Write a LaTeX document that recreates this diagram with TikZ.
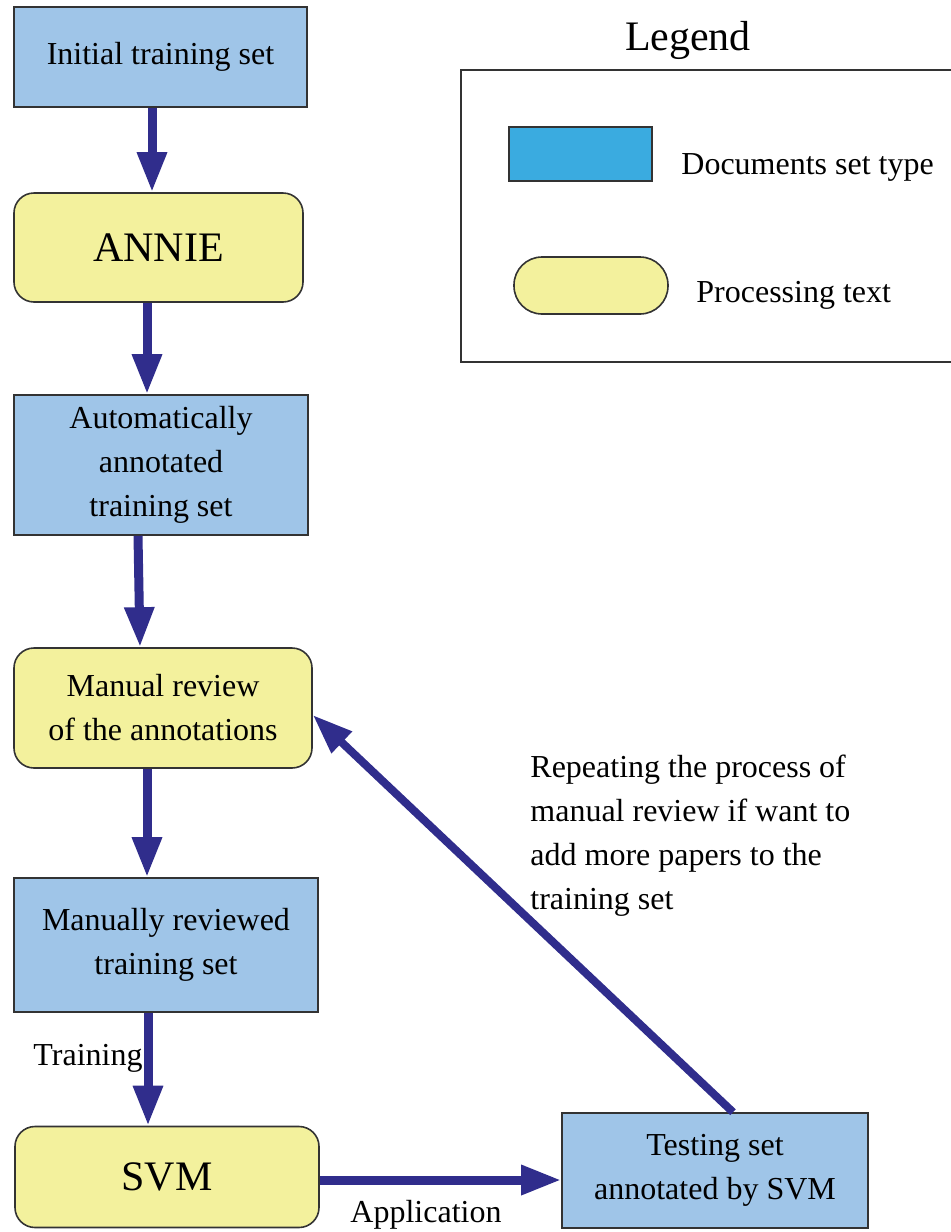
\documentclass[tikz,border=0pt]{standalone}
\usepackage{fontspec}
\setmainfont{Liberation Serif}
\usetikzlibrary{arrows.meta,calc}
\definecolor{docblue}{HTML}{9FC5E8}
\definecolor{procyellow}{HTML}{F3F19D}
\definecolor{legblue}{HTML}{3AABE0}
\definecolor{arrowblue}{HTML}{302D8C}
\definecolor{edgegray}{HTML}{333333}
\tikzset{
  docbox/.style={draw=edgegray, line width=0.8pt, fill=docblue, align=center, inner sep=0pt,
    font=\fontsize{16}{22}\selectfont},
  procbox/.style={draw=edgegray, line width=0.8pt, fill=procyellow, rounded corners=10pt, align=center, inner sep=0pt,
    font=\fontsize{16}{22}\selectfont},
  flow/.style={draw=arrowblue, line width=4.5pt, -{Triangle[length=20pt,width=14pt]}},
  plain/.style={font=\fontsize{16}{22}\selectfont, inner sep=0pt},
}
\begin{document}
\begin{tikzpicture}[x=0.5pt,y=-0.5pt]
\useasboundingbox (0,0) rectangle (950,1232);
% main flow nodes
\node[docbox, minimum width=146.5pt, minimum height=50pt] (init) at (160.5,57) {Initial training set};
\node[procbox, minimum width=144.5pt, minimum height=54.5pt, font=\fontsize{21}{24}\selectfont] (annie) at (158.5,247.5) {ANNIE};
\node[docbox, minimum width=147pt, minimum height=70pt] (auto) at (161,465) {Automatically\\annotated\\training set};
\node[procbox, minimum width=149pt, minimum height=60pt] (manual) at (163,708) {Manual review\\of the annotations};
\node[docbox, minimum width=152pt, minimum height=67pt] (reviewed) at (166,945) {Manually reviewed\\training set};
\node[procbox, minimum width=152pt, minimum height=50.5pt, font=\fontsize{21}{24}\selectfont] (svm) at (167,1177) {SVM};
\node[docbox, minimum width=153pt, minimum height=57.5pt] (testing) at (715,1170.5) {Testing set\\annotated by SVM};
% arrows
\draw[flow] ($(init.south)+(-8.5,0)$) -- ($(annie.north)+(-6.5,0)$);
\draw[flow] ($(annie.south)+(-11.5,0)$) -- ($(auto.north)+(-14,0)$);
\draw[flow] ($(auto.south)+(-23,0)$) -- ($(manual.north)+(-23,0)$);
\draw[flow] ($(manual.south)+(-16,0)$) -- ($(reviewed.north)+(-19,0)$);
\draw[flow] ($(reviewed.south)+(-18,0)$) -- ($(svm.north)+(-19,0)$);
\draw[flow] ($(svm.east)+(0,3)$) -- ($(testing.west)+(0,9.5)$);
\draw[flow, line width=4pt] ($(testing.north)+(18,0)$) -- ($(manual.east)+(0,7)$);
% labels
\node[plain] (ltrain) at (88,1058) {Training};
\node[plain] (lapp) at (426,1215) {Application};
\node[plain, anchor=west, align=left] (lrepeat) at (530,836) {Repeating the process of\\manual review if want to\\add more papers to the\\training set};
% legend
\node[font=\fontsize{21}{24}\selectfont, inner sep=0pt] (legtitle) at (688,40) {Legend};
\node[draw=edgegray, line width=0.8pt, minimum width=247pt, minimum height=146pt, inner sep=0pt] (legbox) at (708,216) {};
\node[draw=edgegray, line width=0.8pt, fill=legblue, minimum width=71.5pt, minimum height=27pt, inner sep=0pt] (legdoc) at (580.5,154) {};
\node[draw=edgegray, line width=0.8pt, fill=procyellow, rounded corners=14pt, minimum width=77pt, minimum height=28.5pt, inner sep=0pt] (legproc) at (591,285.5) {};
\node[plain, anchor=west] (legdoctext) at (681,167) {Documents set type};
\node[plain, anchor=west] (legproctext) at (696,295) {Processing text};
\end{tikzpicture}
\end{document}
